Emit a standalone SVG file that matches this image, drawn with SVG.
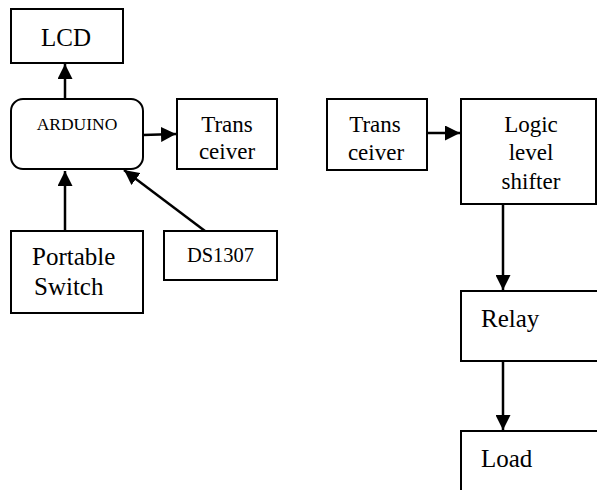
<svg xmlns="http://www.w3.org/2000/svg" width="597" height="490" viewBox="0 0 597 490">
<style>
.box{fill:#fff;stroke:#000;stroke-width:2}
.edge{stroke:#000;stroke-width:2.5;fill:none;marker-end:url(#ah)}
</style>
<defs>
<marker id="ah" viewBox="0 0 10 10" refX="10" refY="5" markerWidth="6" markerHeight="6" markerUnits="strokeWidth" orient="auto">
<path d="M0,0 L10,5 L0,10 z" fill="#000"/>
</marker>
</defs>
<rect width="597" height="490" fill="#fff"/>
<g id="connectors">
<line class="edge" x1="65" y1="99" x2="65" y2="64"/>
<line class="edge" x1="143" y1="135" x2="176" y2="134"/>
<line class="edge" x1="65" y1="231" x2="65" y2="171"/>
<line class="edge" x1="205" y1="231" x2="124" y2="170"/>
<line class="edge" x1="427" y1="133" x2="460" y2="133"/>
<line class="edge" x1="503" y1="204" x2="503" y2="290"/>
<line class="edge" x1="503" y1="361" x2="503" y2="430"/>
</g>
<g id="lcd">
<rect class="box" x="11" y="9" width="112" height="54"/>
<text x="66" y="46" font-family="Liberation Serif" font-size="25" text-anchor="middle">LCD</text>
</g>
<g id="arduino">
<rect class="box" x="11" y="99" width="132" height="70" rx="12" ry="12"/>
<text x="77" y="130" font-family="Liberation Serif" font-size="17.5" text-anchor="middle">ARDUINO</text>
</g>
<g id="transceiver-left">
<rect class="box" x="177" y="99" width="100" height="70"/>
<text x="227" y="132" font-family="Liberation Serif" font-size="23" text-anchor="middle">Trans</text>
<text x="227" y="159" font-family="Liberation Serif" font-size="23" text-anchor="middle">ceiver</text>
</g>
<g id="portable-switch">
<rect class="box" x="11" y="231" width="132" height="82"/>
<text x="32" y="265" font-family="Liberation Serif" font-size="25">Portable</text>
<text x="34" y="295" font-family="Liberation Serif" font-size="25">Switch</text>
</g>
<g id="ds1307">
<rect class="box" x="164" y="231" width="113" height="49"/>
<text x="220.5" y="262" font-family="Liberation Serif" font-size="20.5" text-anchor="middle">DS1307</text>
</g>
<g id="transceiver-right">
<rect class="box" x="327" y="99" width="100" height="71"/>
<text x="375" y="132" font-family="Liberation Serif" font-size="23" text-anchor="middle">Trans</text>
<text x="376" y="160" font-family="Liberation Serif" font-size="23" text-anchor="middle">ceiver</text>
</g>
<g id="logic-level-shifter">
<rect class="box" x="461" y="99" width="135" height="105"/>
<text x="531" y="132" font-family="Liberation Serif" font-size="23" text-anchor="middle">Logic</text>
<text x="531" y="160" font-family="Liberation Serif" font-size="23" text-anchor="middle">level</text>
<text x="531" y="189" font-family="Liberation Serif" font-size="23" text-anchor="middle">shifter</text>
</g>
<g id="relay">
<rect class="box" x="461" y="291" width="150" height="70"/>
<text x="481" y="327" font-family="Liberation Serif" font-size="25">Relay</text>
</g>
<g id="load">
<rect class="box" x="461" y="431" width="150" height="80"/>
<text x="481" y="467" font-family="Liberation Serif" font-size="25">Load</text>
</g>
</svg>
